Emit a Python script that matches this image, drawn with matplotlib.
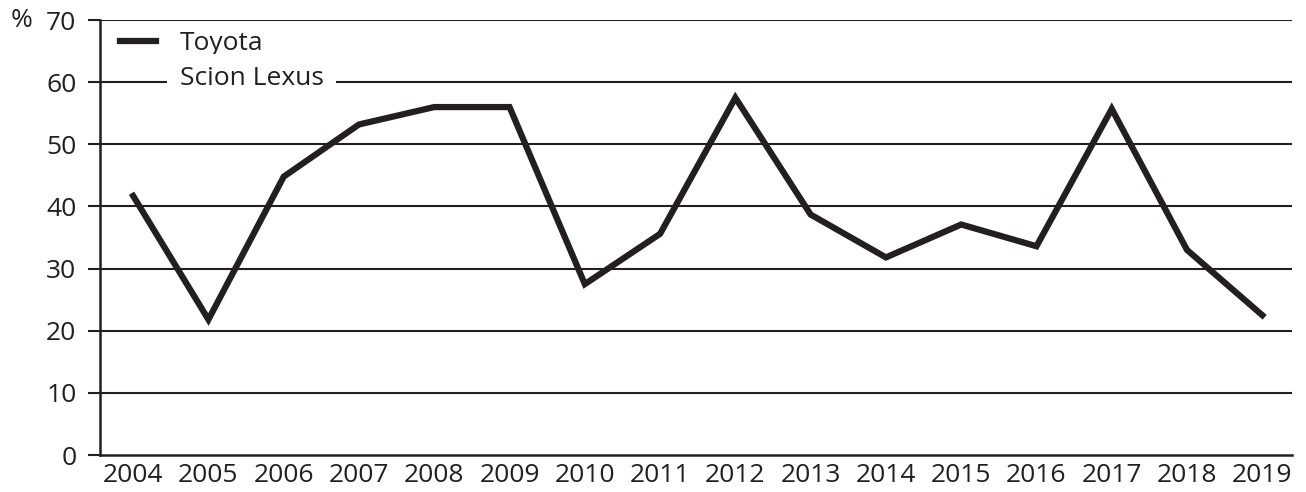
import matplotlib.pyplot as plt
from matplotlib.lines import Line2D

years = [2004, 2005, 2006, 2007, 2008, 2009, 2010, 2011,
         2012, 2013, 2014, 2015, 2016, 2017, 2018, 2019]
toyota = [41.7, 21.8, 44.8, 53.2, 56.0, 56.0, 27.5, 35.6,
          57.5, 38.7, 31.8, 37.1, 33.6, 55.7, 33.0, 22.5]
yticks = [0, 10, 20, 30, 40, 50, 60, 70]

ink = '#231f20'
plt.rcParams['font.family'] = ['Open Sans', 'DejaVu Sans']
plt.rcParams['font.size'] = 19

fig = plt.figure(figsize=(13.06, 4.92), dpi=100)
ax = fig.add_axes([0.0766, 0.0752, 0.913, 0.884])

for v in yticks[1:]:
    ax.axhline(v, color=ink, lw=1.5, zorder=1)

ax.plot(years, toyota, color=ink, lw=4.5, solid_joinstyle='miter', zorder=3)

ax.set_xlim(2003.56, 2019.4)
ax.set_ylim(0, 70)
ax.set_xticks(years)
ax.set_yticks(yticks)
ax.tick_params(axis='y', length=9, width=1.5, color=ink, pad=8, labelcolor=ink)
ax.tick_params(axis='x', length=0, pad=6, labelcolor=ink)
for s in ['top', 'right']:
    ax.spines[s].set_visible(False)
for s in ['left', 'bottom']:
    ax.spines[s].set_color(ink)
    ax.spines[s].set_linewidth(1.8)

fig.text(0.008, 0.959, '%', ha='left', va='center', color=ink, fontsize=19)

# second entry has no visible handle; the 60 gridline runs through it
handles = [Line2D([], [], color=ink, lw=4.5),
           Line2D([], [], color='none', lw=1.5)]
leg = ax.legend(handles, ['Toyota', 'Scion Lexus'], loc='upper left',
                bbox_to_anchor=(-0.003, 1.03), frameon=False,
                handlelength=1.35, handletextpad=0.9, labelspacing=0.4,
                fontsize=19)
texts = leg.get_texts()
for t in texts:
    t.set_color(ink)
texts[1].set_bbox(dict(facecolor='white', edgecolor='none', pad=9))

fig.savefig('out.png', dpi=100)
